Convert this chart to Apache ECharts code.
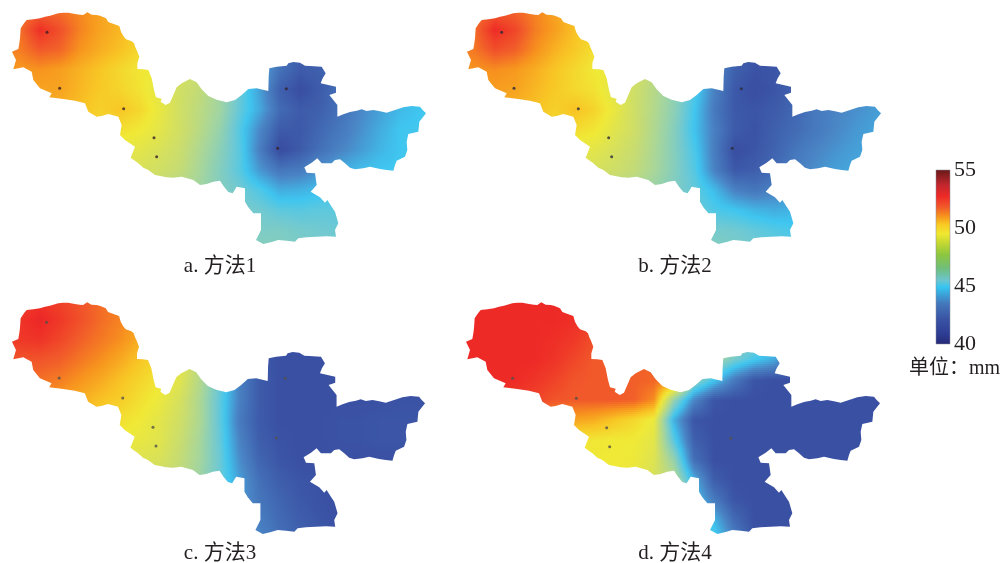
<!DOCTYPE html>
<html><head><meta charset="utf-8">
<style>html,body{margin:0;padding:0;background:#fff}#c{width:1002px;height:563px}</style>
<script src="https://cdn.jsdelivr.net/npm/echarts@6/dist/echarts.min.js"></script>
</head><body><div id="c"></div>
<script>
// Sampling positions of the value field (map units, 3 units = 1 px)
const columnsX = [0,60,120,180,240,300,360,420,480,540,600,660,720,780,840,900,960,1020,1080,1140,1200,1260,1320];
const rowsY = [30,90,150,210,270,330,390,450,510,570,630,690,750];

const method1 = [
[51.8,51.9,52.2,52.1,51.7,51.2,50.8,50.3,49.8,49,48,47,45.6,44,42.6,41.8,41.8,42.2,43.5,44.2,44.6,45,45],
[51.9,52.1,53.4,52.7,51.8,51.2,50.8,50.3,49.8,49,48,47,45.6,44,42.6,41.8,41.8,42.2,43.5,44.2,44.6,45,45],
[51.7,51.9,52.5,52.3,51.5,51,50.6,50,49.6,49,48,47,45.6,44,42.3,41.7,41.7,42.2,43.5,44.2,44.6,45,45],
[51.4,51.4,51.5,51.3,50.9,50.5,50,49.6,49.2,48.6,47.9,46.9,45.6,44,42.2,41.4,41.6,42.2,43.2,44,44.5,44.8,45],
[51.2,51.2,51.2,51.2,50.8,50.4,50.1,49.7,49,48.3,47.8,46.8,45.3,43.6,41.6,40.9,41.4,42.2,43,43.8,44.4,44.7,44.8],
[51,51,51,50.9,50.6,50.2,50.5,50,49.2,48.3,47.6,46.8,45.2,43.8,42,41.4,41.6,42.2,43,43.6,44.2,44.5,44.7],
[50.5,50.5,50.4,50.3,50.2,50,49.8,49.5,49,48.3,47.5,46.5,44.9,43,41.4,41.3,41.9,42.5,43.2,43.9,44.5,44.6,44.7],
[49.5,49.5,49.4,49.4,49.3,49.2,49.1,49,48.6,48.1,47.2,46.2,45,42.7,40.8,41.4,42.2,42.9,43.5,44.1,44.5,44.7,44.7],
[48.8,48.8,48.8,48.8,48.8,48.7,48.7,48.6,48.3,47.9,47,46,45,43.4,42.4,42.6,43.3,43.9,44.3,44.5,44.6,44.7,44.7],
[48,48,48,48,48,48,48,47.8,47.6,47.3,46.8,46,45.5,44.8,43.9,44,44.3,44.6,44.7,44.7,44.7,44.7,44.7],
[47,47,47,47,47,47,47,47,46.8,46.6,46.2,45.9,45.7,45.5,45.1,45,45.1,45.1,45.1,45.1,45.1,45.1,45.1],
[46.5,46.5,46.5,46.5,46.5,46.5,46.5,46.5,46.5,46.2,46,45.9,45.9,45.8,45.8,45.6,45.5,45.4,45.4,45.4,45.4,45.4,45.4],
[46.2,46.2,46.2,46.2,46.2,46.2,46.2,46.2,46.2,46.1,46,46,46,46.1,46,45.9,45.7,45.6,45.6,45.6,45.6,45.6,45.6]
];
const method2 = [
[51.8,52,52.4,52.3,51.8,51.2,50.6,50,49.6,48.8,47.8,46.6,45,43,41.6,41.2,41.3,41.8,42.3,42.8,43.2,43.5,43.5],
[51.9,52.2,53.5,52.9,51.9,51.3,50.6,50,49.6,48.8,47.8,46.6,45,43,41.6,41.2,41.3,41.8,42.3,42.8,43.2,43.5,43.5],
[51.7,52,52.7,52.4,51.6,50.9,50.4,49.8,49.4,48.7,47.7,46.6,45,43,41.6,41.2,41.3,41.8,42.3,42.8,43.2,43.5,43.5],
[51.4,51.5,51.6,51.4,51,50.5,50,49.5,49.2,48.5,47.6,46.5,44.9,43,41.6,41.1,41.2,41.7,42.3,42.8,43.2,43.5,43.5],
[51.2,51.2,51.3,51.2,50.8,50.4,50,49.7,48.9,48.2,47.4,46.3,44.8,42.8,41.3,40.9,41.2,41.7,42.3,42.8,43.2,43.5,43.6],
[51,51,51,50.9,50.6,50.2,50.6,50.1,49.2,48.2,47.3,46.2,44.5,42.5,41.3,41.2,41.4,41.9,42.5,42.9,43.2,43.5,43.7],
[50.5,50.5,50.4,50.3,50.2,50,49.9,49.6,48.9,48.2,47.2,46,44.4,42.7,41.4,41.1,41.6,42,42.5,43,43.4,43.7,43.7],
[49.5,49.5,49.4,49.4,49.3,49.2,49.1,49,48.5,48,47.1,46,44.7,42.6,40.9,41.2,41.7,42.4,42.9,43.3,43.6,43.8,43.8],
[48.7,48.7,48.7,48.7,48.7,48.6,48.6,48.5,48.2,47.8,47,46,44.9,42.8,41.3,41.5,42,42.7,43.2,43.6,43.8,43.9,43.9],
[47.8,47.8,47.8,47.8,47.8,47.8,47.8,47.7,47.5,47.2,46.6,45.9,45.2,44.2,42.8,42.4,42.8,43.4,43.6,43.9,43.9,43.9,43.9],
[47,47,47,47,47,47,47,47,46.8,46.5,46.1,45.8,45.5,44.8,44.5,44.1,43.9,44.1,44.3,44.3,44.3,44.3,44.3],
[46.5,46.5,46.5,46.5,46.5,46.5,46.5,46.5,46.5,46.2,46,45.9,45.8,45.6,45.5,45.2,44.9,44.7,44.6,44.6,44.6,44.6,44.6],
[46.2,46.2,46.2,46.2,46.2,46.2,46.2,46.2,46.2,46.1,46,46,46,46,45.8,45.6,45.3,45,45,45,45,45,45]
];
const method3 = [
[53,53,53.3,53,52.6,52.2,51.8,51.2,50.6,49.8,47.6,45.5,42.8,41.3,41,41,41,41,41,41,41,41,41],
[53,53.3,53.6,53.2,52.7,52.2,51.8,51.2,50.6,49.8,47.6,45.5,42.8,41.3,41,41,41,41,41,41,41,41,41],
[53,53.2,53.3,52.9,52.4,52,51.6,51,50.4,49.6,47.6,45.5,42.8,41.3,41,41,41,41,41,41,41,41,41],
[52.6,52.6,52.6,52.4,52,51.6,51.1,50.5,49.9,49.2,47.6,45.5,42.8,41.3,41,41,41,41,41,41,41,41,41],
[52.2,52.2,52.1,51.9,51.5,51.1,50.6,50.1,49.6,48.9,47.4,45.4,42.8,41.4,41,41,41,41,41,41,41,41,41],
[51.6,51.6,51.6,51.3,51,50.6,50.3,49.8,49.3,48.5,47.2,45.2,42.8,41.4,41,41,41,41,41,41,41.1,41.1,41.1],
[51,51,50.9,50.7,50.5,50.2,49.8,49.5,49,48.3,47.2,45.2,42.6,41.4,41,41,41,41.1,41.1,41.2,41.2,41.2,41.2],
[50.2,50.2,50.1,50,49.8,49.6,49.4,49.2,48.9,48.1,47,45.3,42.9,41.5,41.1,41,41,41.1,41.1,41.2,41.2,41.2,41.2],
[49.6,49.6,49.5,49.4,49.3,49.1,48.9,48.8,48.6,47.9,46.9,45.4,43.2,41.8,41.2,41,41,41,41,41,41,41,41],
[49,49,49,48.9,48.8,48.6,48.4,48.2,48,47.6,46.7,45.4,43.6,42.2,41.5,41.2,41.1,41,41,41,41,41,41],
[48.4,48.4,48.4,48.3,48.2,48,47.8,47.6,47.4,47.1,46.5,45.2,43.6,42.4,41.8,41.3,41.1,41,41,41,41,41,41],
[47.8,47.8,47.8,47.7,47.6,47.4,47.2,47,46.8,46.6,46,45,43.8,42.7,42,41.5,41.2,41,41,41,41,41,41],
[47.2,47.2,47.2,47.1,47,46.8,46.6,46.4,46.2,46,45.6,44.8,44,43,42.2,41.7,41.3,41.1,41,41,41,41,41]
];
const method4 = [
[53.5,53.5,53.5,53.5,53.5,53.5,53.5,53.3,52.8,52.6,52.4,52,50,48,47,46,45,44,42,41,41,41,41],
[53.5,53.5,53.5,53.5,53.5,53.5,53.4,53.1,52.8,52.6,52.4,52,50,48,47,46,45,44,42,41,41,41,41],
[53.5,53.5,53.5,53.5,53.5,53.4,53.2,52.7,52.6,52.5,52.4,52,50,48,47,46,45,44,42,41,41,41,41],
[53.5,53.5,53.5,53.5,53.5,53.3,52.9,52.5,52.5,52.4,52.3,51.9,49,47,45.6,44.6,43.8,42,41,41,41,41,41],
[53.5,53.5,53.5,53.5,53.3,53,52.6,52.5,52.5,52.4,52.3,51.8,46.5,44.6,42.6,41.2,41,41,41,41,41,41,41],
[53.2,53.2,53.2,53.1,53,52.6,52.5,52.5,52.5,52.4,51.6,46.5,43,41.2,41,41,41,41,41,41,41,41,41],
[51.5,51.5,51.5,51.5,51.5,51.4,51.2,51,50.5,50,49.3,44,41.2,41,41,41,41,41,41,41,41,41,41],
[49.7,49.7,49.7,49.7,49.7,49.7,49.6,49.6,49.5,49.5,49,45,41.6,41,41,41,41,41,41,41,41,41,41],
[49.6,49.6,49.6,49.6,49.6,49.6,49.6,49.5,49.5,49.4,48.8,46.5,42.2,41,41,41,41,41,41,41,41,41,41],
[49.5,49.5,49.5,49.5,49.5,49.5,49.5,49.5,49.4,49.2,48.5,47.5,44,41.5,41,41,41,41,41,41,41,41,41],
[49.4,49.4,49.4,49.4,49.4,49.4,49.4,49.4,49.3,49,48.3,47.5,44.6,42.6,41.2,41,41,41,41,41,41,41,41],
[49.3,49.3,49.3,49.3,49.3,49.3,49.3,49.3,49.2,49,48.2,47.5,45,44.2,42,41,41,41,41,41,41,41,41],
[49.2,49.2,49.2,49.2,49.2,49.2,49.2,49.2,49.1,49,48.1,47.5,45.5,45,43,41.2,41,41,41,41,41,41,41]
];

// Colour ramp of the maps and of the legend bar (value, colour)
const mapValues = [40,41,43,44.5,45.5,47,48,49.5,50.5,51.5,52.5,53.5,55];
const mapColors = ['#33459c','#3a50a3','#4a86c6','#3fc6f0','#72c9d0','#a8d69a','#c8dc70','#f0e936','#f8c625','#f7941e','#f1592a','#ee2a27','#8a1c1c'];
const barValues = [40,41,42.2,43.5,44.9,45.5,46.5,47.7,48.7,49.5,50.3,51,51.8,52.7,53.7,54.9,55];
const barColors = ['#262a78','#2e3f96','#3a54a4','#4478bc','#35c4f0','#6cc5cf','#6fbe7c','#8dc63f','#c4d832','#f0e830','#f9c923','#f7941d','#f1592a','#ee2a27','#c1272d','#6e1a1a','#6e1a1a'];
const barTicks = [40,45,50,55];

// Shared region outline (map units)
const outline = [[62,85],[72,70],[80,60],[100,58],[120,55],[135,50],[150,47],[175,40],[190,38],[205,38],[225,42],[240,44],[250,45],[262,37],[275,44],[290,45],[300,47],[318,55],[325,66],[335,70],[358,78],[363,95],[370,108],[378,118],[395,124],[402,130],[406,142],[410,150],[418,170],[412,190],[412,207],[430,208],[445,210],[455,235],[459,255],[462,270],[468,292],[485,296],[482,305],[497,315],[510,308],[520,285],[530,262],[545,250],[570,237],[590,247],[605,268],[625,288],[650,299],[680,307],[705,300],[725,285],[745,267],[770,265],[805,273],[806,230],[808,205],[830,200],[860,197],[865,190],[880,186],[900,188],[915,197],[930,198],[965,200],[977,220],[968,235],[962,250],[985,255],[1008,260],[1008,278],[988,285],[1000,300],[1012,315],[1012,330],[1012,350],[1030,343],[1050,336],[1070,332],[1085,328],[1100,333],[1120,330],[1140,334],[1160,338],[1185,330],[1210,322],[1235,318],[1260,320],[1268,330],[1278,340],[1258,365],[1255,395],[1225,402],[1220,425],[1222,450],[1215,470],[1190,482],[1185,495],[1180,512],[1160,510],[1140,507],[1110,500],[1090,505],[1065,508],[1050,503],[1035,490],[1020,478],[1005,480],[995,490],[965,490],[952,475],[935,488],[913,502],[920,518],[945,520],[950,555],[932,575],[960,592],[975,608],[982,600],[995,620],[1005,635],[1015,670],[1005,690],[1008,710],[980,709],[950,710],[920,712],[895,715],[885,725],[860,722],[835,720],[815,726],[790,732],[768,720],[783,690],[783,640],[760,640],[745,622],[735,605],[735,565],[710,560],[698,580],[685,576],[672,560],[660,542],[640,545],[620,552],[600,555],[580,540],[545,530],[520,533],[500,532],[465,525],[445,510],[430,503],[415,490],[392,473],[405,440],[375,420],[360,405],[365,375],[355,350],[325,342],[305,348],[290,350],[265,335],[255,310],[225,302],[190,297],[148,292],[155,280],[120,265],[100,240],[95,215],[70,202],[40,208],[48,180],[36,155],[55,147],[58,130],[60,115]];

const stationsA = [[141,97],[179,265],[371,326],[462,413],[470,470],[859,266],[833,445]];
const stationsB = [[140,97],[177,265],[370,326],[461,413],[470,470],[859,266],[832,445]];
const stationsC = [[140,97],[178,264],[369,324],[460,412],[469,468],[858,265],[831,444]];
const stationsD = [[176,265],[367,325],[458,413],[467,470],[830,445]];

const labels = ['a. 方法1','b. 方法2','c. 方法3','d. 方法4'];
const unitLabel = '单位：mm';

const panels = [
 {rows:method1, st:stationsA, dot:'#3a1f25', left:0,   top:0,   h:280, cx:220, ly:256},
 {rows:method2, st:stationsB, dot:'#2a2a3a', left:455, top:0,   h:280, cx:675, ly:256},
 {rows:method3, st:stationsC, dot:'#55504a', left:-1,  top:290, h:273, cx:220, ly:543},
 {rows:method4, st:stationsD, dot:'#55504a', left:454, top:290, h:273, cx:675, ly:543}
];

function hex(c){return [1,3,5].map(i=>parseInt(c.substr(i,2),16));}
function mapColor(v){
  if(v<=mapValues[0]) return mapColors[0];
  for(let i=1;i<mapValues.length;i++){
    if(v<=mapValues[i]){
      const t=(v-mapValues[i-1])/(mapValues[i]-mapValues[i-1]);
      const a=hex(mapColors[i-1]),b=hex(mapColors[i]);
      return 'rgb('+a.map((x,k)=>Math.round(x+(b[k]-x)*t)).join(',')+')';
    }
  }
  return mapColors[mapColors.length-1];
}

const SUBROWS=10, SUBCOLS=6;
function bandRenderer(rows){
  return function(params,api){
    const i=api.value(0), children=[];
    const r0=rows[i], r1=rows[i+1];
    for(let s=0;s<SUBROWS;s++){
      const f=(s+0.5)/SUBROWS;
      const yA=rowsY[i]+(rowsY[i+1]-rowsY[i])*s/SUBROWS;
      const yB=rowsY[i]+(rowsY[i+1]-rowsY[i])*(s+1)/SUBROWS;
      const p0=api.coord([columnsX[0],yA]);
      const p1=api.coord([columnsX[columnsX.length-1],yB]);
      const stops=[];
      const last=columnsX.length-1;
      for(let c=0;c<last;c++){
        const a=r0[c]+(r1[c]-r0[c])*f, b=r0[c+1]+(r1[c+1]-r0[c+1])*f;
        for(let k=0;k<SUBCOLS;k++){
          stops.push({offset:(c+k/SUBCOLS)/last,color:mapColor(a+(b-a)*k/SUBCOLS)});
        }
      }
      stops.push({offset:1,color:mapColor(r0[last]+(r1[last]-r0[last])*f)});
      children.push({type:'rect',
        shape:{x:p0[0],y:Math.floor(p0[1]),width:p1[0]-p0[0],height:Math.ceil(p1[1]-p0[1])+1},
        style:{fill:new echarts.graphic.LinearGradient(0,0,1,0,stops)}});
    }
    return {type:'group',children};
  };
}
function maskRenderer(params,api){
  const pts=[[0,0],[1320,0],[1320,840],[0,840],[0,0]];
  const rev=outline.slice().reverse();
  rev.unshift(outline[0]);
  const all=pts.concat(rev).concat([[0,0]]).map(p=>api.coord(p));
  return {type:'polygon',shape:{points:all},style:{fill:'#fff'}};
}

const grids=[],xAxes=[],yAxes=[],series=[],titles=[];
panels.forEach((p,n)=>{
  grids.push({left:p.left,top:p.top,width:440,height:p.h});
  xAxes.push({type:'value',gridIndex:n,min:0,max:1320,show:false});
  yAxes.push({type:'value',gridIndex:n,min:0,max:p.h*3,inverse:true,show:false});
  series.push({type:'custom',xAxisIndex:n,yAxisIndex:n,silent:true,clip:false,z:1,
    data:rowsY.slice(0,-1).map((y,i)=>[i,y]),encode:{x:0,y:1},renderItem:bandRenderer(p.rows)});
  series.push({type:'custom',xAxisIndex:n,yAxisIndex:n,silent:true,clip:false,z:2,
    data:[[0,0]],encode:{x:0,y:1},renderItem:maskRenderer});
  series.push({type:'scatter',xAxisIndex:n,yAxisIndex:n,silent:true,z:3,symbolSize:3,
    itemStyle:{color:p.dot},data:p.st});
  titles.push({text:labels[n],left:p.cx,top:p.ly,textAlign:'center',padding:0,
    textStyle:{fontFamily:'"Liberation Serif","Noto Sans CJK SC",serif',fontSize:21,fontWeight:'normal',color:'#231f20'}});
});
// legend bar
grids.push({left:936,top:170,width:14,height:174});
xAxes.push({type:'value',gridIndex:4,min:0,max:1,show:false});
yAxes.push({type:'value',gridIndex:4,min:40,max:55,interval:5,position:'right',data:barTicks,
  axisLine:{show:false},axisTick:{show:false},splitLine:{show:false},
  axisLabel:{margin:4,fontFamily:'"Liberation Serif",serif',fontSize:22,color:'#231f20'}});
series.push({type:'custom',xAxisIndex:4,yAxisIndex:4,silent:true,clip:false,z:5,data:[[0,40]],encode:{x:0,y:1},
  renderItem(params,api){
    const a=api.coord([0,55]),b=api.coord([1,40]);
    const stops=barValues.map((v,i)=>({offset:(55-v)/15,color:barColors[i]})).reverse();
    return {type:'rect',shape:{x:a[0],y:a[1],width:b[0]-a[0],height:b[1]-a[1]},
      style:{fill:new echarts.graphic.LinearGradient(0,0,0,1,stops),stroke:'#8a8a9a',lineWidth:0.5}};
  }});
titles.push({text:unitLabel,left:909,top:359,padding:0,
  textStyle:{fontFamily:'"Liberation Serif","Noto Sans CJK SC",serif',fontSize:20,fontWeight:'normal',color:'#231f20'}});

const chart=echarts.init(document.getElementById('c'),null,{renderer:'canvas'});
chart.setOption({animation:false,backgroundColor:'#fff',title:titles,grid:grids,xAxis:xAxes,yAxis:yAxes,series});
</script></body></html>
